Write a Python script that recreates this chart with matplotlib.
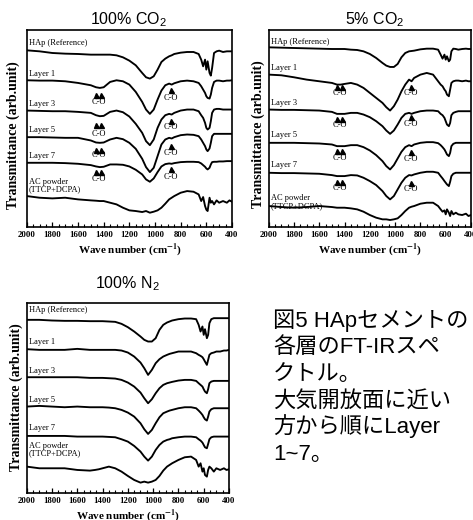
import matplotlib
matplotlib.use("Agg")
import matplotlib.pyplot as plt
from matplotlib.ticker import MultipleLocator

plt.rcParams['mathtext.fontset'] = 'custom'
plt.rcParams['mathtext.rm'] = 'Liberation Sans'
plt.rcParams['mathtext.it'] = 'Liberation Sans:italic'
plt.rcParams['mathtext.bf'] = 'Liberation Sans:bold'

# ---- spectra (wavenumber in cm^-1, stacked transmittance in arb. units) ----
wavenumber = [2000, 1900, 1800, 1700, 1600, 1500, 1460, 1430, 1400, 1350,
              1300, 1250, 1200, 1150, 1100, 1070, 1040, 1010, 980, 950,
              920, 890, 870, 850, 800, 750, 700, 660, 640, 625,
              610, 600, 590, 575, 565, 555, 540, 520, 500, 470,
              440, 420, 400]

# 100% CO2
co2_hap = [531, 528, 523, 521, 520, 518, 518, 518, 518, 518, 516, 510, 500, 486, 463,
           450, 446, 453, 473, 496, 506, 513, 516, 520, 524, 526, 526, 520, 503, 483,
           503, 473, 498, 463, 455, 478, 523, 528, 530, 526, 528, 528, 528]
co2_l1 = [441, 440, 440, 438, 433, 426, 420, 418, 420, 436, 441, 438, 428, 406, 376,
          353, 340, 353, 383, 410, 426, 431, 428, 432, 438, 440, 438, 433, 423, 413,
          403, 393, 388, 386, 398, 418, 436, 440, 440, 438, 440, 440, 441]
co2_l3 = [350, 349, 348, 348, 346, 343, 336, 333, 334, 346, 350, 345, 332, 310, 283,
          258, 246, 263, 298, 323, 336, 340, 338, 343, 350, 353, 353, 348, 336, 328,
          313, 298, 293, 298, 318, 343, 353, 355, 355, 353, 353, 353, 353]
co2_l5 = [270, 270, 269, 268, 268, 260, 254, 253, 254, 263, 268, 264, 253, 235, 205,
          180, 165, 178, 213, 248, 263, 268, 266, 270, 276, 278, 277, 273, 263, 253,
          243, 233, 228, 236, 253, 273, 280, 280, 280, 280, 280, 280, 280]
co2_l7 = [193, 193, 193, 192, 190, 186, 182, 180, 181, 188, 188, 187, 182, 172, 158,
          143, 136, 146, 165, 182, 189, 191, 190, 192, 195, 196, 196, 195, 191, 186,
          181, 176, 173, 178, 188, 195, 196, 196, 197, 197, 198, 198, 198]
co2_ac = [93, 88, 86, 88, 83, 80, 79, 78, 78, 73, 68, 58, 50, 48, 45,
          48, 43, 46, 50, 58, 70, 83, 88, 93, 103, 108, 106, 98, 78, 90,
          63, 52, 48, 88, 73, 78, 68, 80, 73, 78, 73, 80, 76]

# 5% CO2
low_hap = [540, 539, 538, 537, 536, 535, 535, 535, 535, 533, 532, 528, 520, 508, 493,
           485, 481, 481, 490, 510, 523, 528, 529, 530, 534, 536, 536, 533, 518, 506,
           518, 503, 513, 498, 503, 528, 536, 535, 533, 535, 536, 535, 535]
low_l1 = [458, 456, 450, 443, 438, 433, 428, 428, 430, 433, 428, 418, 403, 388, 373,
          360, 350, 363, 383, 408, 428, 443, 438, 448, 458, 463, 458, 438, 428, 423,
          413, 408, 398, 393, 413, 433, 438, 440, 440, 438, 440, 438, 438]
low_l3 = [353, 352, 352, 351, 350, 346, 340, 340, 340, 343, 343, 338, 330, 318, 303,
          290, 280, 290, 308, 328, 340, 343, 340, 343, 348, 350, 350, 348, 340, 336,
          328, 318, 308, 303, 313, 336, 343, 346, 348, 348, 348, 348, 348]
low_l5 = [253, 253, 253, 252, 251, 248, 243, 243, 243, 246, 246, 240, 230, 216, 198,
          183, 173, 186, 206, 226, 240, 246, 243, 248, 253, 255, 255, 252, 246, 240,
          233, 226, 218, 213, 223, 243, 250, 253, 253, 253, 253, 253, 253]
low_l7 = [163, 162, 162, 161, 160, 156, 153, 153, 153, 156, 155, 148, 138, 126, 108,
          93, 83, 93, 113, 133, 148, 156, 155, 158, 163, 166, 166, 163, 153, 146,
          138, 133, 128, 123, 136, 153, 160, 163, 163, 163, 163, 163, 163]
low_ac = [63, 60, 58, 60, 63, 60, 58, 58, 58, 56, 53, 46, 36, 28, 23,
          23, 21, 23, 26, 36, 48, 58, 61, 63, 70, 73, 73, 63, 53, 46,
          50, 38, 53, 43, 33, 48, 38, 43, 38, 36, 40, 33, 36]

# 100% N2
n2_hap = [520, 520, 518, 517, 517, 516, 516, 516, 516, 515, 514, 508, 498, 485, 470,
          460, 455, 455, 465, 490, 505, 512, 515, 518, 522, 524, 524, 522, 505, 485,
          500, 475, 492, 465, 475, 510, 522, 525, 525, 525, 525, 525, 525]
n2_l1 = [432, 430, 430, 430, 433, 430, 430, 430, 430, 430, 430, 428, 422, 410, 392,
         375, 355, 370, 390, 402, 410, 415, 418, 420, 425, 425, 425, 420, 415, 412,
         408, 402, 395, 385, 400, 415, 420, 422, 425, 425, 428, 428, 430]
n2_l3 = [348, 348, 348, 348, 348, 346, 346, 346, 346, 345, 344, 340, 332, 320, 302,
         285, 270, 282, 300, 315, 325, 330, 332, 334, 338, 340, 340, 337, 330, 325,
         320, 312, 305, 300, 312, 330, 335, 337, 337, 337, 337, 337, 337]
n2_l5 = [260, 262, 260, 258, 260, 258, 258, 258, 258, 257, 255, 250, 242, 230, 210,
         192, 178, 190, 210, 228, 240, 245, 248, 250, 255, 258, 258, 255, 248, 242,
         235, 228, 222, 218, 230, 245, 252, 255, 255, 255, 255, 255, 255]
n2_l7 = [172, 172, 172, 172, 170, 170, 170, 170, 170, 169, 168, 162, 155, 142, 125,
         110, 98, 110, 130, 145, 155, 160, 162, 165, 168, 170, 170, 168, 162, 158,
         152, 145, 138, 135, 148, 162, 168, 170, 170, 170, 170, 170, 170]
n2_ac = [80, 75, 75, 75, 70, 68, 70, 72, 75, 80, 75, 65, 52, 40, 32,
         35, 32, 35, 40, 52, 68, 80, 85, 90, 100, 108, 110, 100, 80, 90,
         65, 75, 55, 50, 70, 80, 75, 65, 75, 70, 75, 70, 72]

sample_labels = ["HAp (Reference)", "Layer 1", "Layer 3", "Layer 5", "Layer 7",
                 "AC powder", "(TTCP+DCPA)"]
panel_titles = ["100% CO$_2$", "5% CO$_2$", "100% N$_2$"]

# carbonate (C-O) band positions marked on the layer spectra
co_doublet = [1462, 1418]
co_single = [875]

# label heights for each panel (same units as the spectra)
co2_label_y = [553, 461, 370, 293, 213, 136, 113]
low_label_y = [556, 478, 373, 276, 186, 88, 63]
n2_label_y = [550, 455, 367, 280, 197, 142, 120]

co2_marks = dict(dm=[398, 306, 230, 166], dt=[376, 280, 216, 143],
                 sm=[413, 320, 243, 173], st=[388, 300, 223, 151])
low_marks = dict(dm=[420, 326, 228, 136], dt=[402, 306, 208, 118],
                 sm=[422, 330, 226, 133], st=[402, 310, 203, 115])

W, H = 473, 520
fig = plt.figure(figsize=(W / 100, H / 100), dpi=100)


def px_axes(left, top, right, bottom):
    return fig.add_axes([left / W, 1 - bottom / H, (right - left) / W, (bottom - top) / H])


serif = "Liberation Serif"


def draw_panel(ax, curves, label_y, ylim, marks=None):
    for c in curves:
        ax.plot(wavenumber, c, color="black", lw=1.35, solid_joinstyle="round")
    ax.set_xlim(2000, 400)
    ax.set_ylim(*ylim)
    ax.set_yticks([])
    ax.xaxis.set_major_locator(MultipleLocator(200))
    ax.xaxis.set_minor_locator(MultipleLocator(50))
    ax.tick_params(axis="x", which="major", direction="in", length=3.5, width=0.9, pad=3)
    ax.tick_params(axis="x", which="minor", direction="in", length=2.5, width=0.8)
    for lab in ax.get_xticklabels():
        lab.set_fontfamily(serif)
        lab.set_fontweight("bold")
        lab.set_fontsize(6.3)
    for s in ax.spines.values():
        s.set_linewidth(1.2)
    for text, y in zip(sample_labels, label_y):
        ax.text(1984, y, text, fontsize=6, family=serif, ha="left", va="center")
    if marks is not None:
        for k in range(4):
            ax.plot(co_doublet, [marks["dm"][k]] * 2, linestyle="none", marker="^",
                    ms=3.6, color="black")
            ax.text(sum(co_doublet) / 2, marks["dt"][k], "C-O", fontsize=6, family=serif,
                    ha="center", va="center")
            ax.plot(co_single, [marks["sm"][k]], linestyle="none", marker="^",
                    ms=3.6, color="black")
            ax.text(co_single[0], marks["st"][k], "C-O", fontsize=6, family=serif,
                    ha="center", va="center")


ax1 = px_axes(26.7, 29.7, 232, 227)
draw_panel(ax1, [co2_hap, co2_l1, co2_l3, co2_l5, co2_l7, co2_ac], co2_label_y, (0, 593), co2_marks)
ax2 = px_axes(268.7, 29.7, 471, 227)
draw_panel(ax2, [low_hap, low_l1, low_l3, low_l5, low_l7, low_ac], low_label_y, (0, 593), low_marks)
ax3 = px_axes(26.7, 302.5, 229, 493.3)
draw_panel(ax3, [n2_hap, n2_l1, n2_l3, n2_l5, n2_l7, n2_ac], n2_label_y, (0, 572))


def ftext(x, y, s, **kw):
    fig.text(x / W, 1 - y / H, s, **kw)


# panel titles
for (x, y), t in zip([(129, 20), (375, 20), (127, 284)], panel_titles):
    ftext(x, y, t, fontsize=11.5, family="Liberation Sans", ha="center", va="center")

# axis titles
for x, y in [(13, 135), (258, 134), (16, 397)]:
    ftext(x, y, "Transmittance (arb.unit)", fontsize=10, family=serif,
          fontweight="bold", rotation=90, ha="center", va="center")
for x, y in [(130, 250), (370, 250), (128, 516)]:
    ftext(x, y, r"Wave number (cm$^{\mathbf{-1}}$)", fontsize=8, family=serif,
          fontweight="bold", ha="center", va="center", math_fontfamily="stix")

# caption
caption = ["図5 HApセメントの", "各層のFT-IRスペ", "クトル。",
           "大気開放面に近い", "方から順にLayer", "1~7。"]
for i, line in enumerate(caption):
    ftext(273, 326.7 + i * 26.7, line, fontsize=16,
          family=["Liberation Sans", "Noto Sans CJK JP"], ha="left", va="baseline")

fig.savefig("out.png", dpi=100)
